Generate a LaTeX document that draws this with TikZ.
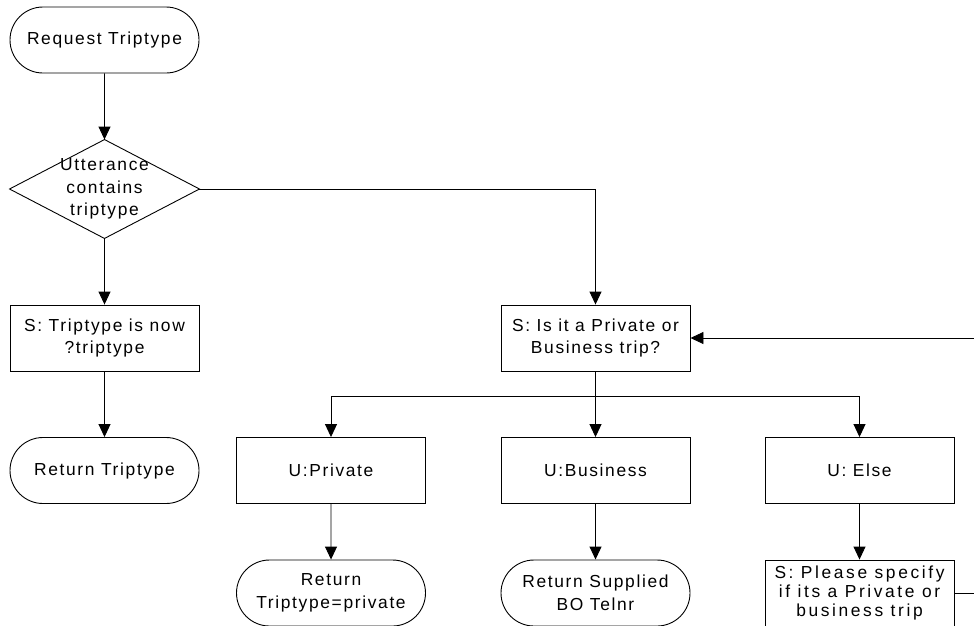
\documentclass[tikz,border=0pt]{standalone}
\usepackage{fontspec}
\setmainfont{Liberation Sans}[LetterSpace=9.5]
\usetikzlibrary{arrows.meta,shapes.misc}
\begin{document}
\begin{tikzpicture}[x=1pt,y=-1pt,
  font=\fontsize{17.4}{22.5}\selectfont,
  base/.style={draw, line width=0.9pt, minimum width=189pt, minimum height=66pt,
    inner sep=0pt, align=center},
  proc/.style={base, rectangle},
  term/.style={base, rounded rectangle, rounded rectangle arc length=180},
  arr/.style={-{Triangle[length=13pt,width=12pt]}, line width=0.9pt},
  link/.style={line width=0.9pt}]

\useasboundingbox (0,0) rectangle (974,625);
\clip (0,0) rectangle (974,625);

% left column
\node[term] (req) at (104.5,40) {Request Triptype};
\node[base, draw=none, minimum height=98pt] (dec) at (104.5,189)
  {Utterance\\contains\\triptype};
\draw[link] (dec.west) -- (dec.north) -- (dec.east) -- (dec.south) -- cycle;
\node[proc] (snow) at (104.5,338) {S: Triptype is now\\?triptype};
\node[term] (rett) at (104.5,470.5) {Return Triptype};

% question and answers
\node[proc] (isit) at (595.5,338) {S: Is it a Private or\\Business trip?};
\node[proc] (upriv) at (331,470.5) {U:Private};
\node[proc] (ubus) at (595.5,470.5) {U:Business};
\node[proc] (uelse) at (859.5,470.5) {U: Else};
\node[term] (rpriv) at (331,593) {Return\\Triptype=private};
\node[term] (rbo) at (595.5,593) {Return Supplied\\BO Telnr};
\node[proc, font=\fontsize{17.4}{18.7}\selectfont\addfontfeature{LetterSpace=15}]
  (please) at (859.5,593) {S: Please specify\\if its a Private or\\business trip};

\coordinate (split) at (595.5,396);

% connectors
\draw[arr] (req) -- (dec.north);
\draw[arr] (dec.south) -- (snow);
\draw[arr] (snow) -- (rett);
\draw[arr] (dec.east) -| (isit.north);
\draw[link] (isit.south) -- (split);
\draw[arr] (split) -| (upriv.north);
\draw[arr] (split) -- (ubus.north);
\draw[arr] (split) -| (uelse.north);
\draw[arr] (upriv) -- (rpriv);
\draw[arr] (ubus) -- (rbo);
\draw[arr] (uelse) -- (please);
\draw[arr] (please.east) -- ++(40,0) |- (isit.east);
\end{tikzpicture}
\end{document}
